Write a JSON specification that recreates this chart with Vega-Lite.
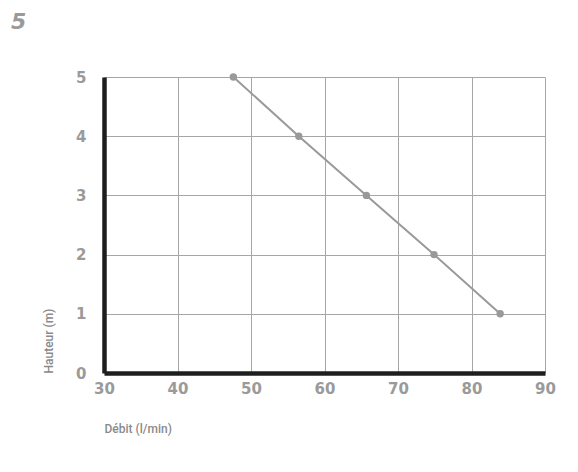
{
  "$schema": "https://vega.github.io/schema/vega-lite/v6.json",
  "autosize": "none",
  "width": 441,
  "height": 296,
  "padding": {"left": 104, "top": 77, "right": 33, "bottom": 99},
  "background": "white",
  "title": {
    "text": "5",
    "anchor": "start",
    "frame": "group",
    "dx": -93,
    "offset": 36,
    "font": "DejaVu Sans",
    "fontSize": 22,
    "fontWeight": "bold",
    "fontStyle": "italic",
    "color": "#9a9a9a"
  },
  "data": {
    "values": [
      {"debit": 47.6, "hauteur": 5},
      {"debit": 56.5, "hauteur": 4},
      {"debit": 65.7, "hauteur": 3},
      {"debit": 74.9, "hauteur": 2},
      {"debit": 83.9, "hauteur": 1}
    ]
  },
  "config": {
    "view": {"stroke": null},
    "axis": {
      "grid": true,
      "gridColor": "#a6a6a6",
      "gridWidth": 1,
      "domainColor": "#1e1e1e",
      "domainWidth": 4.5,
      "ticks": false,
      "labelFont": "DejaVu Sans",
      "labelFontWeight": "bold",
      "labelFontSize": 15,
      "labelColor": "#9a9a9a",
      "titleFont": "Roboto",
      "titleFontSize": 12,
      "titleFontWeight": 500,
      "titleColor": "#8a8a8a"
    }
  },
  "layer": [
    {
      "mark": {"type": "line", "color": "#999999", "strokeWidth": 2},
      "encoding": {
        "x": {
          "field": "debit",
          "type": "quantitative",
          "scale": {"domain": [30, 90], "nice": false, "zero": false},
          "axis": {
            "values": [30, 40, 50, 60, 70, 80, 90],
            "format": "d",
            "title": "Débit (l/min)",
            "titleAnchor": "start",
            "titleAlign": "left",
            "titlePadding": 27,
            "labelPadding": 8,
            "labelFlush": false
          }
        },
        "y": {
          "field": "hauteur",
          "type": "quantitative",
          "scale": {"domain": [0, 5], "nice": false},
          "axis": {
            "values": [0, 1, 2, 3, 4, 5],
            "format": "d",
            "title": "Hauteur (m)",
            "titleAnchor": "start",
            "titleAlign": "left",
            "titlePadding": 20,
            "labelPadding": 18
          }
        }
      }
    },
    {
      "mark": {"type": "point", "filled": true, "color": "#999999", "size": 55, "opacity": 1},
      "encoding": {
        "x": {"field": "debit", "type": "quantitative"},
        "y": {"field": "hauteur", "type": "quantitative"}
      }
    }
  ]
}
